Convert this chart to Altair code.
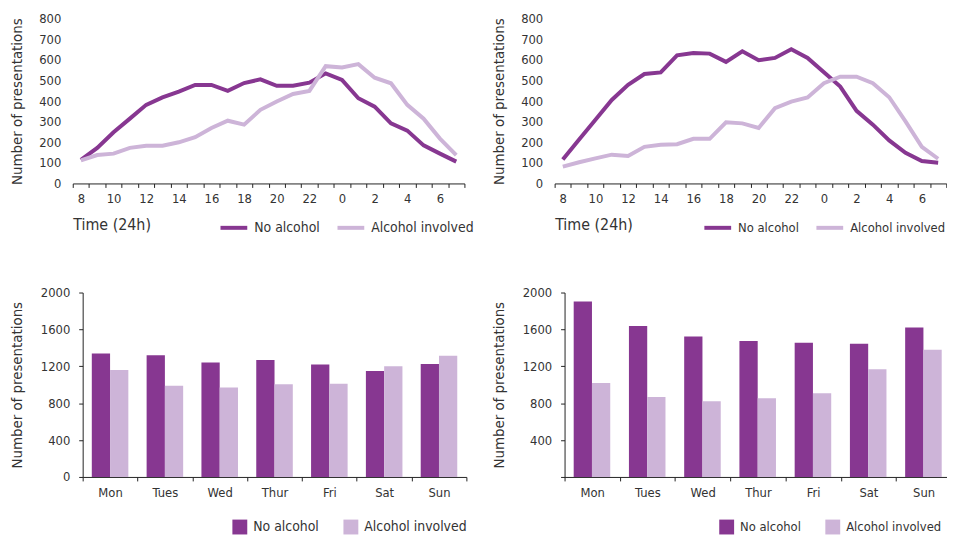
import altair as alt
import pandas as pd

# ---- data ----
hours = [8, 9, 10, 11, 12, 13, 14, 15, 16, 17, 18, 19, 20, 21, 22, 23, 0, 1, 2, 3, 4, 5, 6, 7]
tl_no_alcohol = [115, 173, 249, 315, 382, 418, 446, 479, 479, 450, 488, 506, 475, 475, 490, 535, 503, 414, 373, 292, 257, 185, 145, 106]
tl_alcohol = [112, 138, 145, 173, 183, 183, 200, 225, 270, 305, 286, 358, 398, 435, 450, 570, 564, 580, 514, 487, 382, 315, 218, 138]
tr_no_alcohol = [117, 214, 310, 406, 479, 532, 540, 623, 634, 631, 591, 642, 599, 610, 652, 610, 540, 471, 353, 286, 209, 149, 109, 101]
tr_alcohol = [82, 103, 122, 140, 133, 178, 188, 191, 217, 217, 297, 292, 270, 366, 398, 418, 487, 519, 519, 487, 419, 302, 178, 120]

days = ["Mon", "Tues", "Wed", "Thur", "Fri", "Sat", "Sun"]
bl_no_alcohol = [1340, 1319, 1240, 1269, 1219, 1150, 1226]
bl_alcohol = [1161, 989, 971, 1004, 1011, 1201, 1315]
br_no_alcohol = [1903, 1638, 1523, 1473, 1455, 1444, 1620]
br_alcohol = [1018, 867, 821, 853, 907, 1168, 1380]

series = ["No alcohol", "Alcohol involved"]
line_ticks = [0, 100, 200, 300, 400, 500, 600, 700, 800]
bar_ticks = [0, 400, 800, 1200, 1600, 2000]

# ---- style ----
FONT = "Liberation Sans Narrow, DejaVu Sans Condensed, sans-serif"
DARK = "#873791"
LIGHT = "#cdb4d8"
TEXT = "#333333"
AXIS = "#222222"

color_scale = alt.Scale(domain=series, range=[DARK, LIGHT])


def line_panel(no_alc, alc, width, xrange, legend_x, ylabel_pad, legend_font, col_pad):
    df = pd.DataFrame({
        "hour": hours + hours,
        "value": no_alc + alc,
        "series": [series[0]] * len(hours) + [series[1]] * len(hours),
    })
    return alt.Chart(df).mark_line(strokeWidth=4).encode(
        x=alt.X("hour:O", sort=hours,
                scale=alt.Scale(type="band", paddingInner=0, paddingOuter=0, range=xrange),
                axis=alt.Axis(title="Time (24h)", tickBand="extent", labelAngle=0,
                              labelExpr="datum.value % 2 == 0 ? datum.label : ''",
                              labelOverlap=False, tickSize=4, labelPadding=5,
                              titleAnchor="start", titleAlign="left", titlePadding=11,
                              titleFontSize=16,
                              domainColor=AXIS, tickColor=AXIS, grid=False)),
        y=alt.Y("value:Q", scale=alt.Scale(domain=[0, 800], nice=False),
                axis=alt.Axis(values=line_ticks, domain=False, ticks=False, grid=False,
                              format="d", labelPadding=ylabel_pad,
                              title="Number of presentations", titlePadding=14)),
        color=alt.Color("series:N", sort=series, scale=color_scale,
                        legend=alt.Legend(title=None, orient="none", direction="horizontal",
                                          legendX=legend_x, legendY=195,
                                          symbolType="stroke", symbolSize=729,
                                          symbolStrokeWidth=4, labelFontSize=legend_font,
                                          labelOffset=5, columnPadding=col_pad)),
        order=alt.Order("series:N", sort="ascending"),
    ).properties(width=width, height=166)


def bar_panel(no_alc, alc, width, xrange, yoffset, legend_x, label_expr, legend_font, col_pad):
    df = pd.DataFrame({
        "day": days + days,
        "value": no_alc + alc,
        "series": [series[0]] * len(days) + [series[1]] * len(days),
    })
    return alt.Chart(df).mark_bar().encode(
        x=alt.X("day:N", sort=days,
                scale=alt.Scale(paddingInner=0, paddingOuter=0, range=xrange),
                axis=alt.Axis(title=None, tickBand="extent", labelAngle=0, tickSize=4,
                              labelPadding=6, domainColor=AXIS, tickColor=AXIS, grid=False)),
        xOffset=alt.XOffset("series:N", sort=series,
                            scale=alt.Scale(paddingInner=0, paddingOuter=0.5)),
        y=alt.Y("value:Q", scale=alt.Scale(domain=[0, 2000], nice=False),
                axis=alt.Axis(values=bar_ticks, grid=False, tickSize=4, labelPadding=9,
                              format="d", offset=yoffset, domainColor=AXIS, tickColor=AXIS,
                              labelExpr=label_expr,
                              title="Number of presentations", titlePadding=16)),
        color=alt.Color("series:N", sort=series, scale=color_scale,
                        legend=alt.Legend(title=None, orient="none", direction="horizontal",
                                          legendX=legend_x, legendY=229,
                                          symbolType="square", symbolSize=225,
                                          symbolStrokeWidth=0, symbolOpacity=1,
                                          labelFontSize=legend_font, labelOffset=6,
                                          columnPadding=col_pad)),
    ).properties(width=width, height=186)


tl = line_panel(tl_no_alcohol, tl_alcohol, 397, [0, 395], 147, 12, 14, 9)
tr = line_panel(tr_no_alcohol, tr_alcohol, 400, [0, 395], 149, 12, 13, 9)
bl = bar_panel(bl_no_alcohol, bl_alcohol, 397, [10, 397], -10, 161, "datum.label", 14, 24)
br = bar_panel(br_no_alcohol, br_alcohol, 400, [10, 400], -10, 166,
               "datum.value == 0 ? '' : datum.label", 13, 24)

chart = alt.concat(tl, tr, bl, br, columns=2, spacing={"row": 110, "column": 89},
                   bounds="flush").resolve_scale(
    color="independent", x="independent", y="independent"
).resolve_legend(color="independent").properties(
    autosize=alt.AutoSizeParams(type="none"),
    padding={"left": 65.3, "top": 8.7, "right": 881.7, "bottom": 519.3}
).configure(font=FONT).configure_view(stroke=None).configure_axis(
    labelFont=FONT, titleFont=FONT, labelFontSize=13, titleFontSize=15,
    titleFontWeight="normal", labelColor=TEXT, titleColor=TEXT
).configure_legend(labelFont=FONT, labelColor=TEXT)

chart.save("out.html", embed_options={"renderer": "svg", "actions": False})
